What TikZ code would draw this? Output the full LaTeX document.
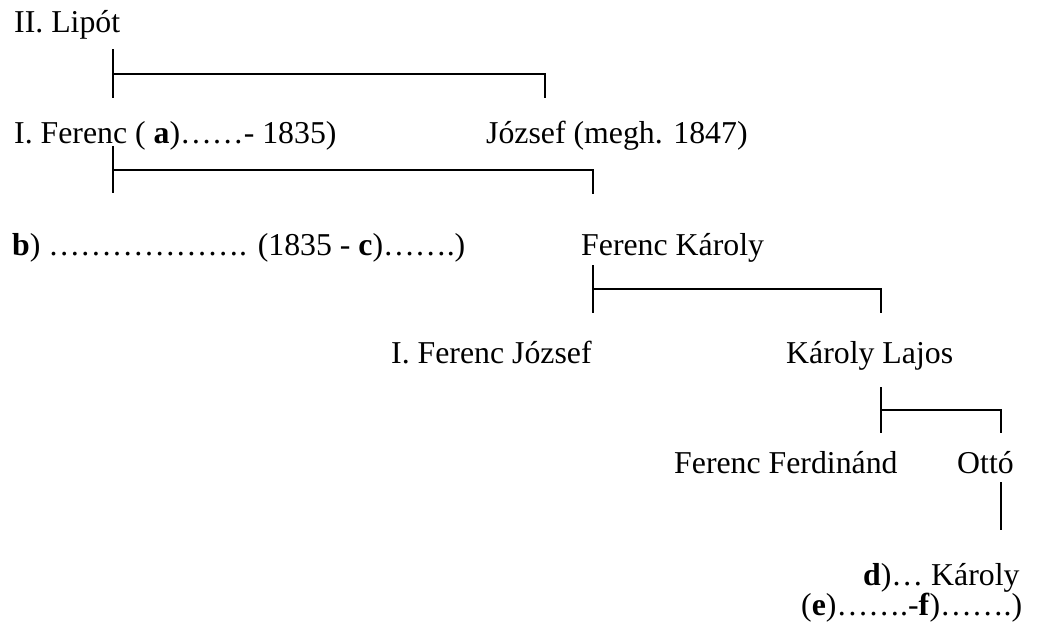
\documentclass[tikz,border=0pt]{standalone}
\usepackage{fontspec}
\setmainfont{Liberation Serif}
\usetikzlibrary{calc}
\begin{document}
\begin{tikzpicture}[x=1pt,y=-1pt,
  txt/.style={anchor=base west,inner sep=0pt,font=\fontsize{31.8}{38}\selectfont},
  link/.style={line width=1.6pt,line cap=butt}]
\useasboundingbox[fill=white] (0,0) rectangle (1038,630);
% texts
\node[txt] (lipot) at (14,32) {II. Lipót};
\node[txt] (ferenc) at (14,143) {I. Ferenc ( \textbf{a})……- 1835)};
\node[txt] (jozsef) at (486,143) {József (megh. 1847)};
\node[txt] (bline) at (12,255) {\textbf{b}) ………………. (1835 - \textbf{c})…….)};
\node[txt] (fk) at (581,255) {Ferenc Károly};
\node[txt] (fj) at (391,363) {I. Ferenc József};
\node[txt] (kl) at (786,363) {Károly Lajos};
\node[txt] (ff) at (674,473) {Ferenc Ferdinánd};
\node[txt] (otto) at (957,473) {Ottó};
\node[txt] (dline) at (863,585) {\textbf{d})… Károly};
\node[txt] (eline) at (801,615) {(\textbf{e})…….-\textbf{f})…….)};
% bracket coordinates
\coordinate (a1) at (113,49);  \coordinate (a2) at (113,98);
\coordinate (am) at (113,74);  \coordinate (a3) at (545,98);
\coordinate (b1) at (113,146); \coordinate (b2) at (113,193);
\coordinate (bm) at (113,170); \coordinate (b3) at (593,194);
\coordinate (c1) at (593,265); \coordinate (c2) at (593,313);
\coordinate (cm) at (593,289); \coordinate (c3) at (881,313);
\coordinate (d1) at (881,387); \coordinate (d2) at (881,433);
\coordinate (dm) at (881,410); \coordinate (d3) at (1001,433);
\coordinate (e1) at (1001,482); \coordinate (e2) at (1001,530);
% brackets
\draw[link] (a1) -- (a2);
\draw[link] (am) -| (a3);
\draw[link] (b1) -- (b2);
\draw[link] (bm) -| (b3);
\draw[link] (c1) -- (c2);
\draw[link] (cm) -| (c3);
\draw[link] (d1) -- (d2);
\draw[link] (dm) -| (d3);
\draw[link] (e1) -- (e2);
\end{tikzpicture}
\end{document}
